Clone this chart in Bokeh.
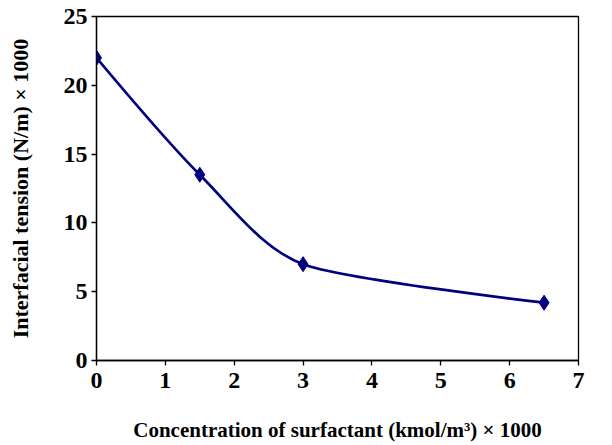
from bokeh.plotting import figure
from bokeh.models import Range1d, FixedTicker
from bokeh.embed import file_html
from bokeh.resources import INLINE
import math

conc = [0.0, 1.5, 3.0, 6.5]
tension = [22.0, 13.5, 7.0, 4.2]
x_ticks = [0, 1, 2, 3, 4, 5, 6, 7]
y_ticks = [0, 5, 10, 15, 20, 25]
x_label = "Concentration of surfactant (kmol/m\u00b3) \u00d7 1000"
y_label = "Interfacial tension (N/m) \u00d7 1000"

NAVY = "#000080"
FONT = "Liberation Serif"

W, H = 612, 445
BL, BR, BT, BB = 96, 34, 16, 85
XMAX, YMAX = 7, 25

p = figure(width=W, height=H, output_backend="svg", toolbar_location=None,
           x_range=Range1d(0, XMAX), y_range=Range1d(0, YMAX),
           min_border_left=BL, min_border_right=BR, min_border_top=BT, min_border_bottom=BB)
p.grid.visible = False
p.outline_line_color = "black"
p.outline_line_width = 1.3

# smoothed line (spreadsheet-style Bezier smoothing through the data points)
sx = (W - BL - BR) / XMAX
sy = (H - BT - BB) / YMAX
n = len(conc)
def pt(i):
    i = min(max(i, 0), n - 1)
    return conc[i], tension[i]
def dist(a, b):
    return math.hypot((a[0] - b[0]) * sx, (a[1] - b[1]) * sy)
def arm(i):
    a, b, c = pt(i - 1), pt(i), pt(i + 1)
    d1, d2 = dist(a, b), dist(b, c)
    if d1 + d2 == 0:
        return 0.0, 0.0
    f = min(d1, d2) / (3 * (d1 + d2))
    return (c[0] - a[0]) * f, (c[1] - a[1]) * f

x0, y0, x1, y1, cx0, cy0, cx1, cy1 = [], [], [], [], [], [], [], []
for i in range(n - 1):
    b, c = pt(i), pt(i + 1)
    ab, ac = arm(i), arm(i + 1)
    x0.append(b[0]); y0.append(b[1]); x1.append(c[0]); y1.append(c[1])
    cx0.append(b[0] + ab[0]); cy0.append(b[1] + ab[1])
    cx1.append(c[0] - ac[0]); cy1.append(c[1] - ac[1])
p.bezier(x0=x0, y0=y0, x1=x1, y1=y1, cx0=cx0, cy0=cy0, cx1=cx1, cy1=cy1,
         line_color=NAVY, line_width=2.7)
p.scatter(conc, tension, marker="diamond", size=15, fill_color=NAVY, line_color=NAVY)

p.xaxis.ticker = FixedTicker(ticks=x_ticks)
p.yaxis.ticker = FixedTicker(ticks=y_ticks)
for ax in (p.xaxis[0], p.yaxis[0]):
    ax.major_tick_in = 0
    ax.major_tick_out = 5
    ax.minor_tick_line_color = None
    ax.axis_line_width = 1.3
    ax.major_tick_line_width = 1.3
    ax.major_label_text_font = FONT
    ax.major_label_text_font_style = "bold"
    ax.major_label_text_font_size = "24px"
    ax.major_label_text_color = "black"
    ax.axis_label_text_font = FONT
    ax.axis_label_text_font_style = "bold"
    ax.axis_label_text_color = "black"
p.xaxis.major_label_standoff = 7
p.yaxis.major_label_standoff = 4

p.xaxis.axis_label = x_label
p.yaxis.axis_label = y_label
p.xaxis.axis_label_text_font_size = "21px"
p.yaxis.axis_label_text_font_size = "22px"
p.xaxis.axis_label_standoff = 27
p.yaxis.axis_label_standoff = 28

open("out.html", "w").write(file_html(p, INLINE))
